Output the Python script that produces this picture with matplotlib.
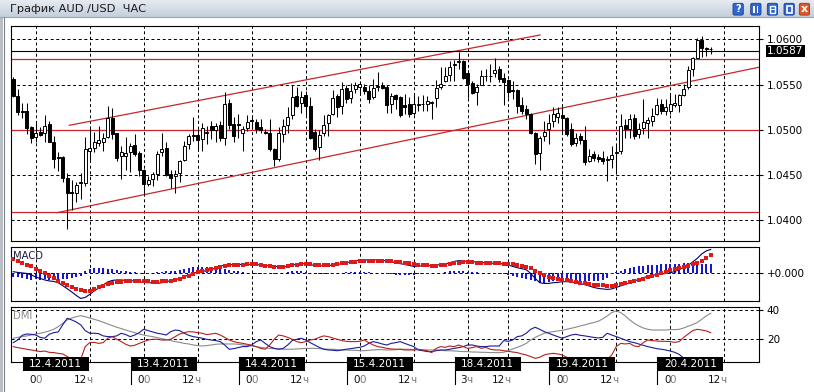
import numpy as np
import matplotlib
matplotlib.use("Agg")
import matplotlib.pyplot as plt
from matplotlib.patches import Rectangle, FancyBboxPatch
from matplotlib.colors import LinearSegmentedColormap
from matplotlib.transforms import blended_transform_factory

plt.rcParams['font.family'] = ['DejaVu Sans']

# ---------------- data ----------------
TITLE = "График AUD /USD  ЧАС"
FIRST_BAR = -5          # bar index of first candle (0 = 12.4.2011 00:00)

OPEN = [
    1.0556, 1.0537, 1.0521, 1.0521, 1.0503, 1.0492, 1.0498, 1.0496, 1.0506, 1.0487,
    1.0470, 1.0470, 1.0447, 1.0431, 1.0430, 1.0441, 1.0441, 1.0477, 1.0480, 1.0485,
    1.0487, 1.0492, 1.0513, 1.0496, 1.0471, 1.0471, 1.0476, 1.0483, 1.0474, 1.0456,
    1.0440, 1.0446, 1.0451, 1.0475, 1.0480, 1.0451, 1.0449, 1.0452, 1.0467, 1.0484,
    1.0493, 1.0494, 1.0490, 1.0496, 1.0504, 1.0500, 1.0505, 1.0491, 1.0530, 1.0506,
    1.0506, 1.0496, 1.0502, 1.0511, 1.0509, 1.0503, 1.0498, 1.0496, 1.0479, 1.0468,
    1.0495, 1.0505, 1.0516, 1.0537, 1.0530, 1.0538, 1.0526, 1.0498, 1.0481, 1.0496,
    1.0508, 1.0517, 1.0537, 1.0526, 1.0546, 1.0535, 1.0545, 1.0547, 1.0547, 1.0543,
    1.0536, 1.0547, 1.0549, 1.0547, 1.0529, 1.0538, 1.0536, 1.0527, 1.0528, 1.0519,
    1.0527, 1.0528, 1.0529, 1.0530, 1.0535, 1.0547, 1.0554, 1.0561, 1.0572, 1.0575,
    1.0576, 1.0563, 1.0552, 1.0542, 1.0550, 1.0559, 1.0559, 1.0563, 1.0567, 1.0557,
    1.0555, 1.0544, 1.0544, 1.0527, 1.0523, 1.0518, 1.0497, 1.0474, 1.0493, 1.0501,
    1.0510, 1.0514, 1.0516, 1.0513, 1.0501, 1.0485, 1.0493, 1.0489, 1.0466, 1.0473,
    1.0470, 1.0469, 1.0467, 1.0468, 1.0474, 1.0477, 1.0505, 1.0501, 1.0513, 1.0495,
    1.0502, 1.0507, 1.0510, 1.0517, 1.0529, 1.0521, 1.0521, 1.0527, 1.0527, 1.0539,
    1.0547, 1.0567, 1.0579, 1.0599, 1.0590, 1.0589]
HIGH = [
    1.0558, 1.0545, 1.0530, 1.0530, 1.0504, 1.0508, 1.0503, 1.0516, 1.0510, 1.0493,
    1.0475, 1.0471, 1.0452, 1.0445, 1.0442, 1.0452, 1.0492, 1.0503, 1.0498, 1.0504,
    1.0497, 1.0526, 1.0524, 1.0497, 1.0482, 1.0492, 1.0485, 1.0495, 1.0477, 1.0457,
    1.0449, 1.0453, 1.0477, 1.0496, 1.0486, 1.0456, 1.0456, 1.0467, 1.0488, 1.0495,
    1.0514, 1.0501, 1.0508, 1.0504, 1.0510, 1.0507, 1.0510, 1.0542, 1.0534, 1.0514,
    1.0517, 1.0504, 1.0516, 1.0516, 1.0512, 1.0512, 1.0501, 1.0512, 1.0480, 1.0503,
    1.0512, 1.0525, 1.0549, 1.0547, 1.0543, 1.0543, 1.0536, 1.0501, 1.0500, 1.0516,
    1.0518, 1.0544, 1.0540, 1.0553, 1.0549, 1.0552, 1.0553, 1.0554, 1.0551, 1.0549,
    1.0556, 1.0564, 1.0553, 1.0549, 1.0541, 1.0540, 1.0537, 1.0540, 1.0536, 1.0538,
    1.0537, 1.0538, 1.0537, 1.0532, 1.0555, 1.0569, 1.0569, 1.0576, 1.0577, 1.0586,
    1.0577, 1.0566, 1.0554, 1.0551, 1.0566, 1.0567, 1.0573, 1.0579, 1.0571, 1.0563,
    1.0556, 1.0554, 1.0545, 1.0536, 1.0527, 1.0519, 1.0498, 1.0493, 1.0510, 1.0518,
    1.0525, 1.0525, 1.0525, 1.0514, 1.0508, 1.0497, 1.0497, 1.0504, 1.0479, 1.0477,
    1.0473, 1.0477, 1.0471, 1.0482, 1.0484, 1.0517, 1.0512, 1.0517, 1.0517, 1.0508,
    1.0534, 1.0514, 1.0524, 1.0535, 1.0534, 1.0534, 1.0539, 1.0540, 1.0540, 1.0551,
    1.0571, 1.0580, 1.0601, 1.0604, 1.0592, 1.0591]
LOW = [
    1.0536, 1.0516, 1.0513, 1.0495, 1.0485, 1.0487, 1.0493, 1.0486, 1.0486, 1.0458,
    1.0455, 1.0442, 1.0390, 1.0411, 1.0420, 1.0423, 1.0438, 1.0467, 1.0476, 1.0482,
    1.0477, 1.0491, 1.0490, 1.0466, 1.0446, 1.0456, 1.0453, 1.0471, 1.0449, 1.0429,
    1.0438, 1.0438, 1.0445, 1.0471, 1.0449, 1.0436, 1.0430, 1.0442, 1.0466, 1.0479,
    1.0488, 1.0479, 1.0477, 1.0484, 1.0490, 1.0486, 1.0488, 1.0483, 1.0501, 1.0486,
    1.0491, 1.0477, 1.0499, 1.0501, 1.0497, 1.0497, 1.0495, 1.0477, 1.0460, 1.0466,
    1.0486, 1.0497, 1.0512, 1.0525, 1.0519, 1.0516, 1.0490, 1.0477, 1.0467, 1.0493,
    1.0493, 1.0516, 1.0514, 1.0518, 1.0530, 1.0530, 1.0541, 1.0538, 1.0540, 1.0530,
    1.0534, 1.0543, 1.0545, 1.0519, 1.0519, 1.0523, 1.0514, 1.0517, 1.0514, 1.0516,
    1.0521, 1.0521, 1.0521, 1.0512, 1.0525, 1.0545, 1.0553, 1.0554, 1.0554, 1.0567,
    1.0556, 1.0535, 1.0540, 1.0527, 1.0549, 1.0554, 1.0553, 1.0558, 1.0553, 1.0527,
    1.0535, 1.0534, 1.0519, 1.0517, 1.0512, 1.0495, 1.0462, 1.0456, 1.0488, 1.0484,
    1.0503, 1.0508, 1.0495, 1.0493, 1.0482, 1.0482, 1.0484, 1.0461, 1.0464, 1.0466,
    1.0464, 1.0462, 1.0443, 1.0458, 1.0451, 1.0473, 1.0491, 1.0491, 1.0490, 1.0491,
    1.0495, 1.0491, 1.0504, 1.0516, 1.0517, 1.0516, 1.0517, 1.0525, 1.0520, 1.0537,
    1.0545, 1.0560, 1.0579, 1.0580, 1.0582, 1.0584]
CLOSE = [
    1.0537, 1.0520, 1.0520, 1.0502, 1.0491, 1.0497, 1.0494, 1.0504, 1.0487, 1.0468,
    1.0469, 1.0447, 1.0430, 1.0430, 1.0439, 1.0442, 1.0479, 1.0480, 1.0487, 1.0489,
    1.0491, 1.0513, 1.0495, 1.0469, 1.0475, 1.0474, 1.0482, 1.0473, 1.0456, 1.0440,
    1.0444, 1.0451, 1.0473, 1.0479, 1.0450, 1.0447, 1.0451, 1.0466, 1.0482, 1.0493,
    1.0494, 1.0489, 1.0502, 1.0498, 1.0500, 1.0504, 1.0491, 1.0529, 1.0505, 1.0493,
    1.0505, 1.0501, 1.0509, 1.0510, 1.0501, 1.0500, 1.0496, 1.0479, 1.0468, 1.0497,
    1.0504, 1.0514, 1.0536, 1.0526, 1.0536, 1.0526, 1.0491, 1.0479, 1.0494, 1.0505,
    1.0516, 1.0535, 1.0525, 1.0545, 1.0534, 1.0543, 1.0550, 1.0551, 1.0543, 1.0534,
    1.0546, 1.0548, 1.0546, 1.0527, 1.0537, 1.0534, 1.0516, 1.0525, 1.0517, 1.0528,
    1.0529, 1.0529, 1.0532, 1.0530, 1.0546, 1.0551, 1.0560, 1.0569, 1.0573, 1.0576,
    1.0557, 1.0551, 1.0541, 1.0547, 1.0559, 1.0560, 1.0560, 1.0566, 1.0556, 1.0553,
    1.0542, 1.0543, 1.0526, 1.0521, 1.0517, 1.0497, 1.0473, 1.0491, 1.0498, 1.0508,
    1.0518, 1.0519, 1.0513, 1.0495, 1.0484, 1.0491, 1.0489, 1.0464, 1.0471, 1.0469,
    1.0468, 1.0466, 1.0468, 1.0472, 1.0475, 1.0504, 1.0501, 1.0512, 1.0493, 1.0501,
    1.0509, 1.0511, 1.0515, 1.0527, 1.0521, 1.0525, 1.0529, 1.0530, 1.0539, 1.0545,
    1.0566, 1.0579, 1.0599, 1.0590, 1.0589, 1.0589]

LAST_PRICE = 1.0587
RED_LEVELS = [1.0578, 1.0500, 1.0409]
CHANNEL_UPPER = ([7.47, 112.07], [1.0505, 1.06048])
CHANNEL_LOWER = ([4.73, 160.7], [1.04084, 1.05691])
PRICE_TICKS = [1.0400, 1.0450, 1.0500, 1.0550, 1.0600]

# MACD values in pips (x 1e-4)
MACD_HIST = [
    -1.6, -1.9, -2.1, -2.7, -2.8, -2.7, -2.9, -2.7, -2.8, -2.7,
    -2.7, -2.5, -2.4, -2.3, -1.9, -1.3, 0.8, 1.6, 1.9, 2.0,
    1.9, 1.6, 1.3, 1.1, 0.8, 0.7, 0.3, 0.1, -0.3, -0.4,
    -0.4, -0.3, 0.3, 0.4, 0.5, 0.5, 0.7, 1.1, 1.6, 2.0,
    2.3, 2.4, 2.4, 2.3, 2.1, 1.9, 1.6, 1.3, 1.1, 0.8,
    0.5, 0.3, 0.0, -0.3, -0.4, -0.5, -0.7, -0.5, -0.4, -0.3,
    0.0, 0.3, 0.5, 0.7, 0.7, 0.4, 0.0, -0.3, -0.4, -0.5,
    -0.5, -0.4, -0.3, -0.1, 0.1, 0.3, 0.4, 0.4, 0.3, 0.1,
    0.0, -0.3, -0.4, -0.5, -0.7, -0.8, -0.9, -0.9, -0.9, -0.8,
    -0.7, -0.5, -0.4, -0.3, -0.1, 0.0, 0.3, 0.5, 0.7, 0.7,
    0.5, 0.4, 0.3, 0.1, 0.0, -0.1, -0.3, -0.4, -0.5, -0.7,
    -0.9, -1.3, -1.7, -2.1, -2.5, -2.9, -3.5, -4.0, -4.0, -3.7,
    -3.5, -3.2, -2.9, -2.9, -3.1, -3.2, -3.3, -3.5, -3.5, -3.5,
    -3.3, -2.9, -2.0, -0.7, 0.3, 0.8, 1.3, 1.9, 2.3, 2.5,
    2.8, 2.9, 3.1, 3.2, 3.3, 3.5, 3.5, 3.6, 3.6, 3.7,
    3.7, 3.7, 3.6, 3.6, 3.5, 3.3]
MACD_MAIN = [
    0.4, 0.1, -0.1, -0.3, -0.9, -1.7, -2.3, -2.9, -3.3, -3.5,
    -4.0, -5.2, -6.4, -7.7, -9.1, -10.3, -9.9, -8.7, -7.3, -6.1,
    -4.9, -3.7, -3.1, -2.9, -2.9, -3.1, -3.2, -3.3, -3.6, -3.9,
    -4.0, -4.1, -4.3, -4.0, -3.6, -3.2, -2.8, -2.3, -1.6, -0.9,
    -0.3, 0.3, 0.5, 0.8, 1.3, 1.9, 2.7, 2.9, 3.2, 3.3,
    3.3, 3.3, 3.3, 3.3, 3.2, 3.1, 2.9, 2.8, 2.5, 2.4,
    2.4, 2.5, 2.9, 3.5, 3.7, 3.5, 3.2, 2.9, 2.8, 2.7,
    2.8, 3.1, 3.3, 3.6, 4.0, 4.3, 4.7, 5.1, 5.1, 5.1,
    5.1, 5.1, 4.9, 4.7, 4.4, 4.0, 3.6, 3.3, 2.9, 2.5,
    2.7, 2.7, 2.8, 2.9, 3.1, 3.2, 3.5, 4.0, 4.5, 4.8,
    4.7, 4.5, 4.4, 4.3, 4.1, 4.0, 3.9, 3.7, 3.6, 3.5,
    3.1, 2.5, 2.0, 1.6, 1.2, -0.3, -2.3, -4.0, -4.3, -4.3,
    -4.0, -3.9, -3.6, -3.6, -3.7, -4.0, -4.4, -4.8, -5.3, -5.9,
    -6.3, -6.5, -6.7, -6.5, -5.9, -5.3, -4.7, -3.9, -3.3, -2.7,
    -2.0, -1.5, -1.1, -0.8, -0.5, -0.3, -0.1, 0.5, 1.3, 2.1,
    2.9, 4.3, 5.7, 7.5, 8.7, 9.3]
MACD_SIGNAL = [
    5.3, 4.5, 3.9, 3.2, 2.5, 1.6, 0.7, -0.3, -1.3, -2.3,
    -3.2, -4.1, -4.9, -5.7, -6.5, -7.1, -7.5, -7.5, -6.7, -5.9,
    -5.2, -4.7, -4.1, -3.9, -3.6, -3.3, -3.2, -3.2, -3.2, -3.2,
    -3.3, -3.6, -3.6, -3.5, -3.3, -3.2, -3.1, -2.5, -1.9, -1.3,
    -0.7, 0.1, 0.7, 1.1, 1.5, 2.0, 2.4, 2.7, 2.9, 2.9,
    3.1, 3.2, 3.3, 3.5, 3.3, 3.1, 2.7, 2.5, 2.4, 2.1,
    2.4, 2.7, 3.1, 3.2, 3.3, 3.5, 3.3, 3.1, 2.9, 2.9,
    3.1, 3.1, 3.3, 3.7, 4.0, 4.1, 4.4, 4.7, 4.7, 4.8,
    4.8, 4.8, 4.8, 4.7, 4.5, 4.3, 4.1, 4.0, 3.7, 3.5,
    3.1, 2.9, 2.9, 2.8, 2.8, 2.9, 3.2, 3.5, 3.7, 4.0,
    4.3, 4.3, 4.1, 4.0, 4.0, 3.9, 3.9, 3.7, 3.7, 3.6,
    3.5, 3.3, 3.1, 2.8, 2.4, 1.7, 0.8, -0.1, -0.9, -1.6,
    -2.3, -2.7, -2.8, -3.1, -3.2, -3.6, -4.0, -4.3, -4.5, -4.8,
    -4.9, -5.1, -5.2, -5.3, -4.9, -4.5, -4.1, -3.7, -3.3, -2.8,
    -2.4, -1.9, -1.3, -0.8, -0.3, 0.3, 0.9, 1.3, 1.7, 2.1,
    2.7, 3.3, 4.0, 4.8, 5.9, 7.1]

DMI_ADX = [
    20.7, 21.3, 21.8, 22.3, 22.9, 23.6, 24.1, 24.8, 25.7, 26.8,
    28.6, 30.9, 33.2, 34.5, 35.4, 36.1, 35.4, 34.5, 33.6, 32.7,
    31.6, 30.4, 29.3, 28.2, 27.3, 26.3, 25.4, 24.5, 23.6, 22.9,
    22.3, 21.8, 21.1, 20.4, 19.8, 19.1, 18.4, 17.9, 17.2, 16.8,
    16.1, 15.7, 15.4, 15.7, 16.1, 16.6, 16.8, 16.8, 16.8, 16.8,
    16.6, 16.1, 15.9, 15.4, 15.0, 14.5, 14.1, 13.8, 13.6, 13.4,
    13.2, 13.2, 13.2, 13.4, 13.6, 13.8, 13.8, 13.8, 13.6, 13.4,
    13.2, 13.2, 12.9, 12.7, 12.7, 12.5, 12.5, 12.2, 12.2, 12.5,
    12.7, 12.9, 12.9, 12.7, 12.7, 12.9, 13.2, 13.2, 13.2, 12.9,
    12.9, 12.7, 12.7, 12.7, 12.7, 12.5, 12.2, 12.2, 12.0, 11.8,
    11.6, 11.6, 11.3, 11.3, 11.1, 11.1, 10.9, 10.9, 10.9, 11.1,
    12.2, 13.4, 14.5, 15.7, 17.2, 19.5, 21.3, 22.7, 24.1, 24.8,
    25.2, 25.7, 26.1, 26.8, 27.5, 28.2, 29.1, 29.8, 30.7, 31.4,
    32.3, 33.9, 35.9, 38.2, 39.3, 38.2, 35.9, 33.2, 30.9, 29.1,
    27.7, 26.8, 26.3, 26.3, 26.3, 26.3, 26.6, 26.6, 26.8, 27.7,
    28.9, 30.0, 31.4, 33.6, 35.9, 37.7]
DMI_PLUS = [
    17.7, 19.5, 22.7, 23.6, 23.4, 22.9, 21.3, 20.7, 23.4, 24.5,
    25.0, 29.8, 34.3, 33.2, 31.8, 29.8, 25.9, 24.1, 24.1, 23.8,
    22.3, 21.8, 21.8, 22.3, 24.1, 23.2, 21.8, 22.9, 24.5, 26.8,
    25.9, 25.0, 24.1, 23.6, 22.9, 25.2, 26.3, 25.9, 24.1, 22.7,
    21.8, 21.3, 20.7, 20.0, 19.5, 19.1, 18.4, 16.1, 13.2, 13.6,
    14.3, 15.0, 15.0, 16.1, 18.4, 19.5, 17.2, 15.0, 13.8, 13.2,
    13.8, 16.1, 19.1, 20.0, 20.7, 19.5, 17.7, 16.1, 14.5, 13.2,
    12.7, 12.5, 12.2, 12.7, 13.2, 13.6, 14.1, 14.5, 15.4, 17.2,
    18.4, 17.7, 16.8, 16.1, 17.2, 17.7, 18.4, 17.2, 16.1, 15.0,
    12.7, 12.2, 11.6, 11.6, 12.2, 12.7, 12.7, 13.2, 13.8, 14.3,
    15.0, 16.1, 16.1, 15.4, 15.0, 15.0, 15.4, 15.4, 15.4, 19.1,
    18.6, 19.5, 21.8, 22.3, 24.1, 26.8, 28.2, 26.8, 25.2, 24.1,
    22.9, 21.8, 20.7, 21.8, 22.9, 23.4, 22.7, 22.3, 21.8, 21.3,
    20.9, 21.3, 24.1, 22.9, 21.8, 20.7, 19.5, 18.4, 17.7, 16.8,
    15.9, 15.0, 14.3, 13.6, 13.2, 12.7, 12.0, 11.1, 9.7, 7.0,
    6.5, 6.0, 5.5, 5.5, 5.0, 5.0]
DMI_MINUS = [
    15.0, 14.3, 13.8, 13.2, 12.7, 12.2, 11.6, 12.0, 11.1, 10.9,
    10.4, 10.0, 8.2, 6.3, 5.9, 6.3, 15.0, 17.7, 17.9, 17.2,
    17.7, 20.7, 21.8, 20.0, 18.4, 16.6, 15.4, 15.9, 17.2, 18.4,
    19.5, 20.0, 20.0, 19.5, 19.5, 20.0, 21.8, 23.6, 24.5, 25.2,
    25.0, 24.5, 24.1, 23.2, 23.6, 24.1, 22.9, 21.3, 19.5, 18.4,
    17.7, 17.2, 16.6, 15.9, 15.0, 13.8, 13.2, 16.1, 20.0, 22.9,
    22.3, 21.3, 20.0, 18.4, 17.7, 18.4, 19.5, 20.0, 21.3, 22.3,
    21.8, 20.9, 20.0, 19.1, 18.6, 18.4, 18.4, 18.6, 19.5, 17.7,
    16.1, 15.0, 14.5, 13.8, 13.4, 13.2, 13.2, 12.7, 12.7, 12.7,
    13.2, 12.7, 12.2, 10.9, 13.8, 15.0, 14.5, 15.4, 15.0, 16.1,
    15.0, 13.8, 14.3, 15.0, 13.8, 14.5, 13.2, 12.7, 12.7, 12.2,
    11.8, 11.3, 10.9, 10.0, 9.3, 8.2, 7.0, 7.7, 9.3, 10.0,
    10.4, 10.0, 9.3, 7.7, 6.3, 5.9, 5.4, 5.4, 5.4, 5.4,
    5.9, 5.9, 6.3, 9.3, 15.0, 17.2, 16.8, 17.2, 15.4, 15.0,
    17.7, 19.5, 19.1, 18.8, 18.6, 18.6, 18.4, 17.9, 18.4, 21.3,
    23.6, 25.9, 26.8, 26.3, 25.7, 24.5]
DMI_TICKS = [20, 40]

GRID_BARS = [0, 12, 24, 36, 48, 60, 72, 84, 96, 105, 117, 129, 141, 153]
GRID_TEXT = ['00', '12ч', '00', '12ч', '00', '12ч', '00', '12ч', '3ч', '12ч', '00', '12ч', '00', '12ч']
DATE_LABELS = ['12.4.2011', '13.4.2011', '14.4.2011', '15.4.2011', '18.4.2011', '19.4.2011', '20.4.2011']
DAY_START = [0, 24, 48, 72, 96, 117, 141]

# ---------------- layout ----------------
W, H = 814, 392
fig = plt.figure(figsize=(W / 100, H / 100), dpi=100)
fig.patch.set_facecolor('white')


def frac(left, top, right, bottom):
    return [left / W, 1 - bottom / H, (right - left) / W, (bottom - top) / H]


XLIM = (-5.49, 160.73)
GRID_KW = dict(color='black', lw=0.72, ls=(0, (3, 2.6)), zorder=1)
FS = 7.5

# window chrome
chrome = fig.add_axes([0, 0, 1, 1], zorder=0)
grad = np.linspace(0, 1, 32).reshape(-1, 1)
cmap = LinearSegmentedColormap.from_list('tb', ['#e6ebf2', '#c4cedb'])
chrome.imshow(grad, extent=(0, W, 17, 0), cmap=cmap, aspect='auto', interpolation='bilinear')
chrome.set_xlim(0, W)
chrome.set_ylim(H, 0)
chrome.axis('off')
chrome.plot([0, W], [17, 17], color='#9aa5b3', lw=0.8)
chrome.add_patch(Rectangle((0, 17), 3.2, H - 17, fc='#b9bdc4', ec='none'))
chrome.plot([3.6, 3.6], [17, H], color='#7b8089', lw=0.8)
chrome.text(10, 9, TITLE, fontsize=8.2, color='#1a1a1a', va='center', ha='left')

ICONS = [(733.0, '?'), (750.7, 'pause'), (767.3, 'min'), (784.0, 'max'), (799.3, 'x')]
for x0, kind in ICONS:
    col = '#dd5a2c' if kind == 'x' else '#2f66cf'
    ecol = '#9b3416' if kind == 'x' else '#1c3f88'
    chrome.add_patch(FancyBboxPatch((x0, 3.3), 10.3, 11.8, boxstyle='round,pad=0,rounding_size=1.6',
                                    fc=col, ec=ecol, lw=0.6))
    if kind == '?':
        chrome.text(x0 + 5.15, 9.4, '?', color='white', fontsize=7, fontweight='bold', ha='center', va='center')
    elif kind == 'pause':
        chrome.add_patch(Rectangle((x0 + 2.6, 5.6), 1.9, 7.4, fc='white', ec='none'))
        chrome.add_patch(Rectangle((x0 + 5.8, 5.6), 1.9, 7.4, fc='white', ec='none'))
    elif kind == 'min':
        chrome.add_patch(Rectangle((x0 + 2.3, 5.6), 5.7, 7.4, fc='none', ec='white', lw=1.0))
        chrome.add_patch(Rectangle((x0 + 2.3, 8.6), 5.7, 1.4, fc='white', ec='none'))
    elif kind == 'max':
        chrome.add_patch(Rectangle((x0 + 2.5, 5.8), 5.3, 6.8, fc='none', ec='white', lw=1.2))
    else:
        chrome.text(x0 + 5.15, 9.0, 'x', color='white', fontsize=8, fontweight='bold', ha='center', va='center')


def style_panel(a):
    a.set_xlim(XLIM)
    a.set_xticks([])
    a.yaxis.set_ticks_position('right')
    a.tick_params(axis='y', direction='out', length=3, width=0.8, pad=2.6, labelsize=FS, colors='black')
    for s in a.spines.values():
        s.set_color('black')
        s.set_linewidth(0.8)
    a.set_facecolor('white')
    for gx in GRID_BARS:
        a.axvline(gx, **GRID_KW)


# ---------------- main price panel ----------------
ax = fig.add_axes(frac(11, 26, 759, 241), zorder=2)
style_panel(ax)
ax.set_ylim(1.037713, 1.061470)
ax.set_yticks(PRICE_TICKS, labels=[f'{v:.4f}' for v in PRICE_TICKS])
for gy in PRICE_TICKS:
    ax.axhline(gy, **GRID_KW)

o = np.array(OPEN); h = np.array(HIGH); l = np.array(LOW); c = np.array(CLOSE)
xb = np.arange(FIRST_BAR, FIRST_BAR + len(o))
ax.vlines(xb, l, h, color='black', lw=0.75, zorder=3)
up = c >= o
body_lo = np.minimum(o, c)
body_h = np.maximum(np.abs(c - o), 0.00003)
ax.bar(xb, body_h, bottom=body_lo, width=0.62, color=np.where(up, 'white', 'black'),
       edgecolor='black', linewidth=0.7, zorder=4)

RED = '#c8262b'
for lv in RED_LEVELS:
    ax.axhline(lv, color=RED, lw=0.9, zorder=2)
ax.plot(*CHANNEL_UPPER, color=RED, lw=0.9, zorder=2)
ax.plot(*CHANNEL_LOWER, color=RED, lw=0.9, zorder=2)
ax.axhline(LAST_PRICE, color='black', lw=0.8, zorder=2)
tr = blended_transform_factory(ax.transAxes, ax.transData)
ax.text((767 - 11) / 748, LAST_PRICE, f'{LAST_PRICE:.4f}', transform=tr, color='white', fontsize=FS,
        ha='left', va='center', zorder=10, clip_on=False,
        bbox=dict(boxstyle='square,pad=0.12', fc='black', ec='none'))

# ---------------- MACD panel ----------------
axm = fig.add_axes(frac(11, 247.3, 759, 301), zorder=2)
style_panel(axm)
axm.set_ylim(-0.001133, 0.001015)
axm.set_yticks([0], labels=['+0.000'])
axm.axhline(0, **GRID_KW)
xh = np.arange(FIRST_BAR, FIRST_BAR + len(MACD_HIST))
axm.bar(xh, np.array(MACD_HIST) * 1e-4, width=0.45, color='#1515d2', zorder=2)
xm = np.arange(FIRST_BAR, FIRST_BAR + len(MACD_MAIN))
axm.plot(xm, np.array(MACD_MAIN) * 1e-4, color='#000066', lw=0.8, zorder=3)
xs = np.arange(FIRST_BAR, FIRST_BAR + len(MACD_SIGNAL))
axm.plot(xs, np.array(MACD_SIGNAL) * 1e-4, ls='none', marker='s', ms=2.35, mew=0, color='#dc1a1a', zorder=4)
axm.text(0.003, 0.93, 'MACD', transform=axm.transAxes, fontsize=7.2, color='#1c1c3c', va='top', ha='left', zorder=6)

# ---------------- DMI panel ----------------
axd = fig.add_axes(frac(11, 307.3, 759, 362), zorder=2)
style_panel(axd)
axd.set_ylim(4.5, 41.8)
axd.set_yticks(DMI_TICKS, labels=[str(v) for v in DMI_TICKS])
for gy in DMI_TICKS:
    axd.axhline(gy, **GRID_KW)
for series, col in ((DMI_ADX, '#8a8a8a'), (DMI_PLUS, '#1a1a9e'), (DMI_MINUS, '#b4211f')):
    xd = np.arange(FIRST_BAR, FIRST_BAR + len(series))
    axd.plot(xd, series, color=col, lw=0.8, zorder=3)
axd.text(0.003, 0.93, 'DMI', transform=axd.transAxes, fontsize=7.2, color='#8a8a8a', va='top', ha='left', zorder=6)

# ---------------- time axis ----------------
axt = fig.add_axes(frac(11, 350, 759, 392), zorder=5)
axt.set_xlim(XLIM)
axt.set_ylim(392, 350)
axt.axis('off')
box_w = 66 / 4.5
for k, (lab, start) in enumerate(zip(DATE_LABELS, DAY_START)):
    left = max(start - 2.87, XLIM[0] + 0.22)
    axt.add_patch(Rectangle((left, 356.7), box_w, 14.0, fc='black', ec='none', clip_on=False, zorder=3))
    axt.text(left + box_w / 2, 363.9, lab, color='white', fontsize=FS, ha='center', va='center', zorder=4)
    if k > 0:
        axt.plot([left, left], [356.7, 383.5], color='black', lw=0.8, zorder=3, clip_on=False)

for gx, txt in zip(GRID_BARS, GRID_TEXT):
    if txt == '00':
        split, main, suf = gx, '0', '0'
    elif txt == '3ч':
        split, main, suf = gx - 0.2, '3', 'ч'
    else:
        split, main, suf = gx - 0.73, '12', 'ч'
    axt.text(split + 0.1, 380, main, color='#111111', fontsize=FS, ha='right', va='center')
    axt.text(split - 0.1, 380, suf, color='#7a7a7a', fontsize=FS, ha='left', va='center')

fig.savefig('out.png', dpi=100, facecolor='white')
